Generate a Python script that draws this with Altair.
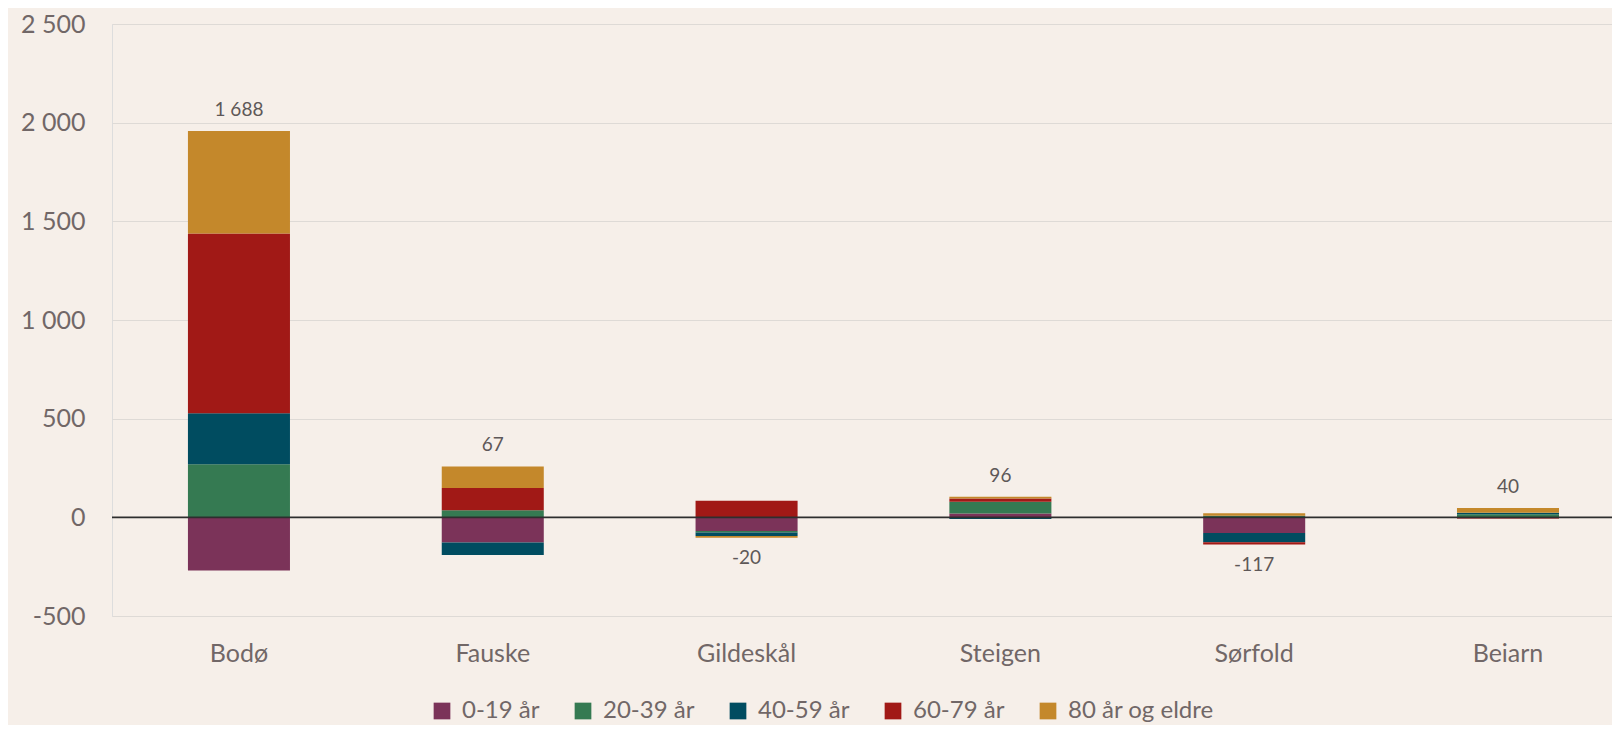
import altair as alt
import pandas as pd

categories = ["Bodø", "Fauske", "Gildeskål", "Steigen", "Sørfold", "Beiarn"]
series = ["0-19 år", "20-39 år", "40-59 år", "60-79 år", "80 år og eldre"]
v_0_19 = [-270, -128, -69, 20, -79, -5]
v_20_39 = [269, 36, -8, 59, 8, 15]
v_40_59 = [259, -63, -17, -8, -47, 8]
v_60_79 = [910, 113, 84, 16, -12, -2]
v_80 = [520, 109, -10, 9, 13, 24]
totals = [1688, 67, -20, 96, -117, 40]
colors = ["#7B3359", "#357A52", "#004C60", "#A11916", "#C4882B"]

all_vals = [v_0_19, v_20_39, v_40_59, v_60_79, v_80]
rows = []
for i, s in enumerate(series):
    for j, c in enumerate(categories):
        rows.append({"kommune": c, "gruppe": s, "idx": i, "verdi": all_vals[i][j]})
df = pd.DataFrame(rows)

trows = []
for j, c in enumerate(categories):
    pos = sum(v[j] for v in all_vals if v[j] > 0)
    neg = sum(v[j] for v in all_vals if v[j] < 0)
    t = totals[j]
    trows.append({"kommune": c, "total": t, "labely": pos if t >= 0 else neg})
tdf = pd.DataFrame(trows)

BG = "#F6EFE9"
TXT = "#716767"
FONT = "Lato"
fmt = "replace(replace(format(VAL, ','), ',', ' '), '\u2212', '-')"

xenc = alt.X(
    "kommune:N",
    sort=categories,
    scale=alt.Scale(paddingInner=0.598, paddingOuter=0.254, align=0.589),
    axis=alt.Axis(title=None, labelAngle=0, ticks=False, tickSize=0, domain=False,
                  labelPadding=25, labelFontSize=25, labelColor=TXT, labelFont=FONT,
                  grid=False),
)

bars = alt.Chart(df).mark_bar().encode(
    x=xenc,
    y=alt.Y(
        "verdi:Q",
        stack="zero",
        scale=alt.Scale(domain=[-500, 2500], nice=False, zero=False),
        axis=alt.Axis(title=None, values=[-500, 0, 500, 1000, 1500, 2000, 2500],
                      labelExpr=fmt.replace("VAL", "datum.value"),
                      grid=True, gridColor="#DEDAD6", gridWidth=1.2,
                      ticks=False, tickSize=0, domain=False, labelPadding=27,
                      labelFontSize=25, labelColor=TXT, labelFont=FONT),
    ),
    color=alt.Color(
        "gruppe:N",
        scale=alt.Scale(domain=series, range=colors),
        legend=alt.Legend(title=None, orient="none", legendX=318, legendY=675,
                          direction="horizontal", columns=5, symbolType="square",
                          symbolSize=279, symbolStrokeWidth=0, labelFontSize=24,
                          labelColor=TXT, labelFont=FONT, columnPadding=31,
                          labelOffset=8, padding=0),
    ),
    order=alt.Order("idx:Q", sort="ascending"),
)

rule = alt.Chart(pd.DataFrame({"y": [0]})).mark_rule(color="#2E2E2E", strokeWidth=1.6).encode(
    y="y:Q"
)

base_t = alt.Chart(tdf).transform_calculate(
    lbl=fmt.replace("VAL", "datum.total")
)
text_pos = base_t.transform_filter("datum.total >= 0").mark_text(
    dy=-21, fontSize=19, font=FONT, color="#5E5858", baseline="middle"
).encode(x=alt.X("kommune:N", sort=categories), y="labely:Q", text="lbl:N")
text_neg = base_t.transform_filter("datum.total < 0").mark_text(
    dy=20, fontSize=19, font=FONT, color="#5E5858", baseline="middle"
).encode(x=alt.X("kommune:N", sort=categories), y="labely:Q", text="lbl:N")

chart = alt.layer(bars, rule, text_pos, text_neg).properties(
    width=1500,
    height=592,
    autosize=alt.AutoSizeParams(type="none"),
    padding={"left": 104, "top": 16, "right": 0, "bottom": 109},
    background=BG,
).configure_view(stroke=None).configure(font=FONT)

chart.save("out.html", embed_options={"renderer": "svg", "actions": False})
